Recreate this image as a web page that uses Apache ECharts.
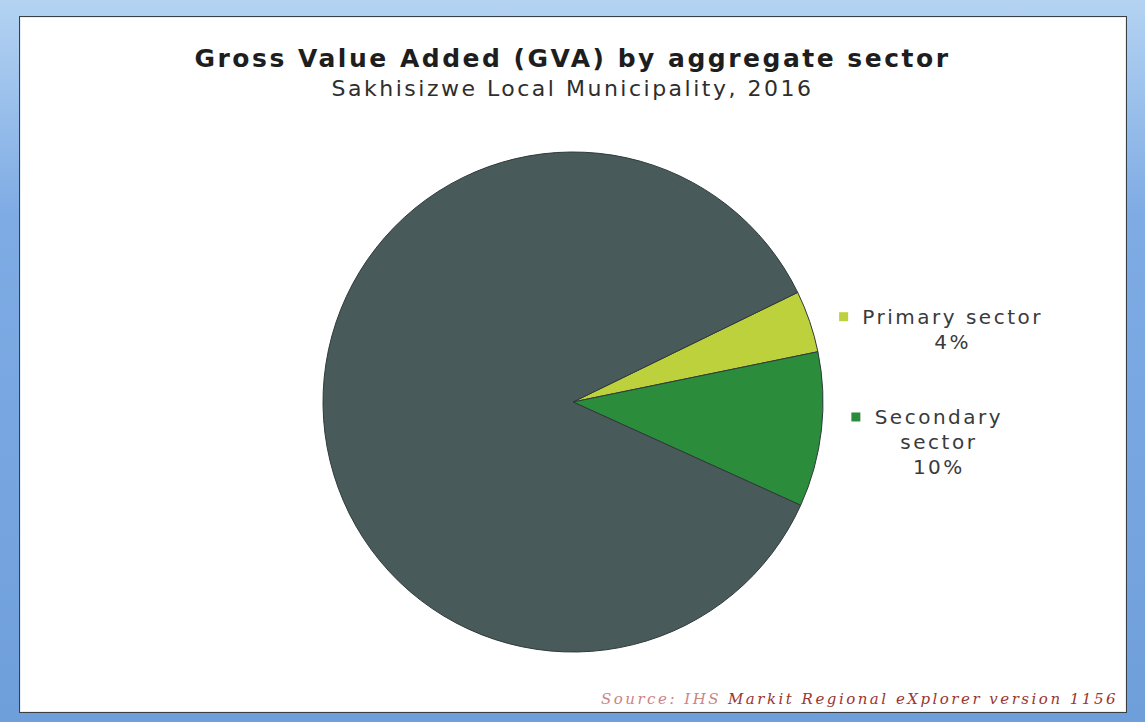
<!DOCTYPE html>
<html>
<head>
<meta charset="utf-8">
<title>Gross Value Added (GVA) by aggregate sector</title>
<script src="https://cdn.jsdelivr.net/npm/echarts@6/dist/echarts.min.js"></script>
<style>
  html, body { margin: 0; padding: 0; width: 1145px; height: 722px; overflow: hidden; }
  body { background: linear-gradient(to bottom, #b4d3f2 0%, #7eabe4 30%, #6f9fdb 100%); }
  #panel {
    position: absolute; left: 19px; top: 16px; width: 1106px; height: 695px;
    background: #ffffff; border: 1px solid #3a3f44;
    box-shadow: inset 0 0 0 1px #e8eef4;
  }
  #chart { position: absolute; left: 0; top: 0; width: 1145px; height: 722px; }
  /* wide, airy lettering for every piece of chart text */
  #chart svg text { letter-spacing: 2.5px; }
</style>
</head>
<body>
<div id="panel"></div>
<div id="chart"></div>
<script>
// GVA shares by aggregate sector, Sakhisizwe Local Municipality, 2016 (%)
const sectors = ['Primary sector', 'Secondary sector', 'Tertiary sector'];
const sectorLabels = ['Primary sector', 'Secondary\nsector', 'Tertiary\nsector'];
const shares = [4, 10, 86];
const sectorColors = ['#bdd13c', '#2b8d3b', '#495a5b'];
const showLabel = [true, true, false];

const titleText = 'Gross Value Added (GVA) by aggregate sector';
const subtitleText = 'Sakhisizwe Local Municipality, 2016';
const sourcePrefix = 'Source: IHS';
const sourceText = 'Markit Regional eXplorer version 1156';

const SPACING = 2.5;
const SANS = '"DejaVu Sans", Verdana, sans-serif';
const SERIF = '"DejaVu Serif", serif';
const measureCtx = document.createElement('canvas').getContext('2d');
function textWidth(s, font) {
  measureCtx.font = font;
  return Math.ceil(measureCtx.measureText(s).width + SPACING * s.length);
}

const labelFont = '20px ' + SANS;
// rich styles: a coloured key square per sector, and a centred text box per sector
const rich = {
  g: { width: 14 },
  s: { width: 23 }
};
sectorLabels.forEach((lbl, i) => {
  const lines = lbl.split('\n');
  rich['m' + i] = { width: 9, height: 9, backgroundColor: sectorColors[i] };
  rich['t' + i] = {
    width: Math.max(...lines.map(l => textWidth(l, labelFont)), textWidth('100%', labelFont)),
    align: 'center',
    fontFamily: SANS,
    fontSize: 20,
    lineHeight: 25,
    color: '#3a3a3a'
  };
});

const sourceFont = 'italic 15px ' + SERIF;
const sourceRight = 1118;
const sourceBaseline = 706;
const sourceMainWidth = textWidth(sourceText, sourceFont);

const chart = echarts.init(document.getElementById('chart'), null, { renderer: 'svg' });

chart.setOption({
  animation: false,
  backgroundColor: 'transparent',
  title: {
    text: titleText,
    subtext: subtitleText,
    left: 'center',
    top: 39,
    itemGap: 4,
    textStyle: {
      fontFamily: SANS,
      fontSize: 25,
      lineHeight: 28,
      fontWeight: 'bold',
      color: '#1e1e1e'
    },
    subtextStyle: {
      fontFamily: SANS,
      fontSize: 22,
      lineHeight: 24,
      color: '#2e2e2e'
    }
  },
  graphic: [
    {
      type: 'text',
      silent: true,
      style: {
        text: sourceText, x: sourceRight, y: sourceBaseline,
        align: 'right', verticalAlign: 'bottom',
        font: sourceFont, fill: '#9a3530'
      }
    },
    {
      type: 'text',
      silent: true,
      style: {
        text: sourcePrefix, x: sourceRight - sourceMainWidth - 6, y: sourceBaseline,
        align: 'right', verticalAlign: 'bottom',
        font: sourceFont, fill: '#c98585'
      }
    }
  ],
  series: [
    {
      type: 'pie',
      center: [573, 402],
      radius: 250,
      startAngle: 26,
      clockwise: true,
      avoidLabelOverlap: false,
      emphasis: { disabled: true },
      itemStyle: { borderColor: '#2f3a3a', borderWidth: 1 },
      labelLine: { show: false, length: 10, length2: 15 },
      labelLayout: { dy: 11 },
      label: {
        position: 'outside',
        rich: rich,
        formatter: (p) => {
          const i = p.dataIndex;
          const lines = sectorLabels[i].split('\n');
          lines.push(Math.round(p.percent) + '%');
          return lines.map((ln, k) =>
            k === 0 ? '{m' + i + '|}{g|}{t' + i + '|' + ln + '}' : '{s|}{t' + i + '|' + ln + '}'
          ).join('\n');
        }
      },
      data: sectors.map((name, i) => ({
        name: name,
        value: shares[i],
        itemStyle: { color: sectorColors[i] },
        label: { show: showLabel[i] }
      }))
    }
  ]
});
</script>
</body>
</html>
